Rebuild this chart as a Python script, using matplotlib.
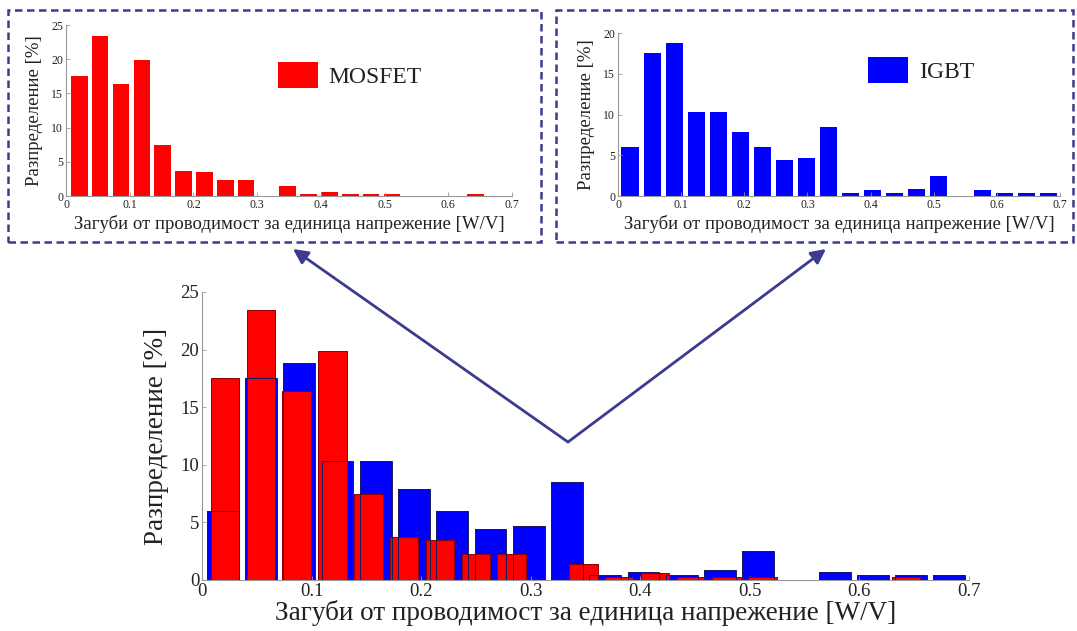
import matplotlib
matplotlib.use("Agg")
import matplotlib.pyplot as plt
import numpy as np
from matplotlib.patches import FancyArrowPatch, Rectangle

plt.rcParams["font.family"] = ["Liberation Serif", "DejaVu Serif"]

# conduction loss per volt histograms, share of devices in %
mosfet_pct = [17.5, 23.4, 16.4, 19.9, 7.5, 3.7, 3.5, 2.3, 2.3, 0.0,
              1.4, 0.3, 0.6, 0.3, 0.3, 0.3, 0.0, 0.0, 0.0, 0.3]
igbt_pct = [6.0, 17.5, 18.8, 10.3, 10.3, 7.9, 6.0, 4.4, 4.7, 8.5,
            0.4, 0.7, 0.4, 0.9, 2.5, 0.0, 0.7, 0.4, 0.4, 0.4]

# histogram bins (first centre, bin step) in W/V
mosfet_bins = (0.021, 0.0327)
igbt_bins = (0.019, 0.0349)

xticks = [0, 0.1, 0.2, 0.3, 0.4, 0.5, 0.6, 0.7]
xlabel = "Загуби от проводимост за единица напрежение [W/V]"
ylabel = "Разпределение [%]"

RED = "#ff0000"
BLUE = "#0000ff"
NAVY = "#3b3b8f"
TEXT = "#222222"

W, H = 1077, 631


def centres(values, bins):
    first, step = bins
    return first + step * np.arange(len(values))


def px_box(x0, y0, x1, y1):
    return [x0 / W, 1 - y1 / H, (x1 - x0) / W, (y1 - y0) / H]


def style_axes(ax, ymax, ystep, tick_size, label_size, labelpad_x, labelpad_y, pad=2):
    ax.set_xlim(0, 0.7)
    ax.set_ylim(0, ymax)
    ax.set_xticks(xticks)
    ax.set_xticklabels([f"{t:g}" for t in xticks])
    ax.set_yticks(np.arange(0, ymax + 0.1, ystep))
    for side in ("top", "right"):
        ax.spines[side].set_visible(False)
    for side in ("left", "bottom"):
        ax.spines[side].set_color("#999999")
        ax.spines[side].set_linewidth(0.8)
    ax.tick_params(direction="in", length=3, width=0.6, color="#999999",
                   labelsize=tick_size, labelcolor=TEXT, pad=pad)
    ax.set_xlabel(xlabel, fontsize=label_size, color=TEXT, labelpad=labelpad_x)
    ax.set_ylabel(ylabel, fontsize=label_size, color=TEXT, labelpad=labelpad_y)


fig = plt.figure(figsize=(W / 100, H / 100), dpi=100)

# MOSFET panel
ax1 = fig.add_axes(px_box(66, 25, 512, 196))
ax1.bar(centres(mosfet_pct, mosfet_bins), mosfet_pct, width=0.026,
        color=RED, edgecolor="none", label="MOSFET")
style_axes(ax1, 25, 5, 8.5, 13.5, 3, 6)
ax1.legend(loc="center left", bbox_to_anchor=(0.475, 0.708), frameon=False,
           fontsize=17, handlelength=1.7, handleheight=1.35, handletextpad=0.45,
           borderpad=0, borderaxespad=0, labelcolor=TEXT)

# IGBT panel
ax2 = fig.add_axes(px_box(618, 33, 1060, 196))
ax2.bar(centres(igbt_pct, igbt_bins), igbt_pct, width=0.027,
        color=BLUE, edgecolor="none", label="IGBT")
style_axes(ax2, 20, 5, 8.5, 13.5, 3, 6)
ax2.legend(loc="center left", bbox_to_anchor=(0.566, 0.773), frameon=False,
           fontsize=17, handlelength=1.7, handleheight=1.35, handletextpad=0.45,
           borderpad=0, borderaxespad=0, labelcolor=TEXT)

# combined panel: IGBT behind, MOSFET over it, IGBT outlines on top
ax3 = fig.add_axes(px_box(202, 292, 969, 580))
ax3.bar(centres(igbt_pct, igbt_bins), igbt_pct, width=0.029,
        color=BLUE, edgecolor="none", zorder=1)
ax3.bar(centres(mosfet_pct, mosfet_bins), mosfet_pct, width=0.026,
        color=RED, edgecolor="#8b0000", linewidth=0.7, zorder=2)
ax3.bar(centres(igbt_pct, igbt_bins), igbt_pct, width=0.029,
        facecolor="none", edgecolor="#1a1a5e", linewidth=0.7, zorder=3)
style_axes(ax3, 25, 5, 13.5, 19.5, 0, 8, pad=2)

# dashed frames round the two small panels
for x0, x1 in [(8, 541), (556, 1073)]:
    fig.patches.append(Rectangle((x0 / W, 1 - 242 / H), (x1 - x0) / W, 232 / H,
                                 transform=fig.transFigure, fill=False,
                                 edgecolor=NAVY, linewidth=1.8,
                                 linestyle=(0, (3, 1.8))))

# arrows from the combined panel up to each frame
apex = (568 / W, 1 - 442 / H)
for tip in [(293 / W, 1 - 249 / H), (826 / W, 1 - 249 / H)]:
    fig.patches.append(FancyArrowPatch(apex, tip, transform=fig.transFigure,
                                       arrowstyle="-|>", mutation_scale=22,
                                       color=NAVY, linewidth=2.0,
                                       shrinkA=0, shrinkB=0))

fig.savefig("out.png", dpi=100)
